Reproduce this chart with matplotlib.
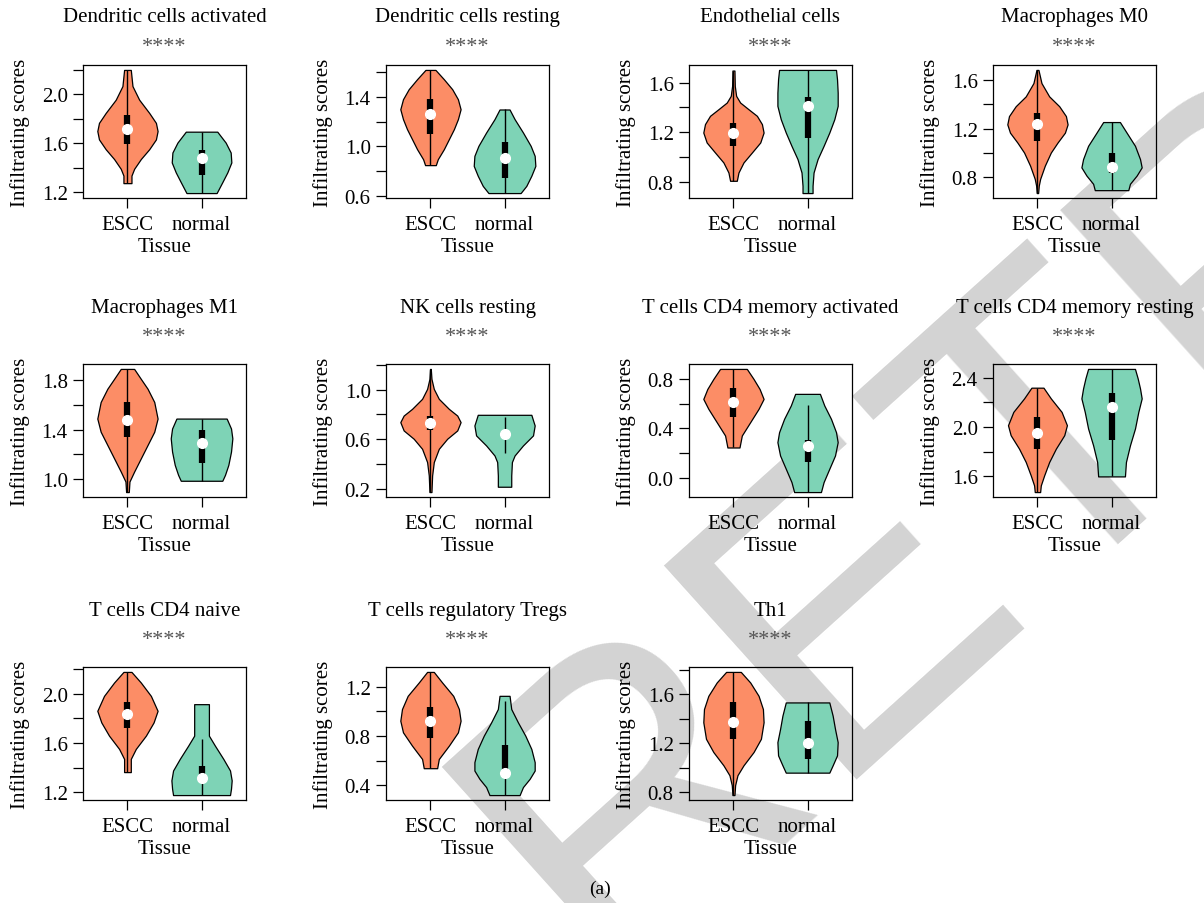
import numpy as np
import matplotlib
matplotlib.use("Agg")
import matplotlib.pyplot as plt
from matplotlib.ticker import FixedLocator, MultipleLocator

plt.rcParams["font.family"] = ["Liberation Serif", "DejaVu Serif"]

cell_types = ["Dendritic cells activated", "Dendritic cells resting", "Endothelial cells",
              "Macrophages M0", "Macrophages M1", "NK cells resting",
              "T cells CD4 memory activated", "T cells CD4 memory resting",
              "T cells CD4 naive", "T cells regulatory Tregs", "Th1"]
groups = ["ESCC", "normal"]
signif = ["****"] * 11

# violin outlines: score levels (top -> bottom) and relative density
escc_y = [
    [2.197, 2.065, 1.954, 1.846, 1.765, 1.698, 1.63, 1.55, 1.47, 1.39, 1.335, 1.273],
    [1.618, 1.543, 1.462, 1.381, 1.30, 1.22, 1.139, 1.058, 0.977, 0.896, 0.848],
    [1.697, 1.573, 1.493, 1.439, 1.385, 1.332, 1.265, 1.197, 1.117, 1.036, 0.956, 0.875, 0.808],
    [1.681, 1.573, 1.464, 1.383, 1.302, 1.234, 1.166, 1.085, 1.003, 0.895, 0.786, 0.732, 0.67],
    [1.894, 1.813, 1.733, 1.625, 1.49, 1.383, 1.275, 1.167, 1.059, 0.978, 0.892],
    [1.166, 1.086, 1.005, 0.925, 0.844, 0.79, 0.737, 0.67, 0.603, 0.522, 0.415, 0.307, 0.173],
    [0.881, 0.8, 0.719, 0.638, 0.558, 0.45, 0.342, 0.245],
    [2.319, 2.232, 2.123, 2.015, 1.934, 1.825, 1.717, 1.608, 1.527, 1.473],
    [2.175, 2.089, 1.981, 1.86, 1.766, 1.659, 1.552, 1.471, 1.364],
    [1.321, 1.235, 1.127, 1.02, 0.925, 0.831, 0.723, 0.615, 0.54],
    [1.781, 1.695, 1.586, 1.478, 1.37, 1.235, 1.127, 1.019, 0.938, 0.857, 0.776],
]
escc_dens = [
    [10, 15, 35, 65, 85, 90, 85, 65, 40, 20, 12, 12],
    [15, 40, 65, 82, 90, 82, 70, 55, 40, 22, 16],
    [3, 4, 8, 20, 45, 70, 85, 90, 80, 55, 30, 15, 10],
    [3, 12, 35, 65, 85, 90, 82, 60, 40, 22, 8, 4, 2],
    [20, 40, 60, 80, 90, 80, 60, 40, 20, 6, 4],
    [1, 3, 10, 25, 55, 80, 90, 80, 50, 25, 10, 5, 3],
    [40, 60, 78, 90, 75, 50, 25, 18],
    [18, 40, 72, 88, 80, 55, 35, 20, 10, 8],
    [12, 40, 70, 90, 78, 55, 25, 10, 10],
    [10, 35, 68, 85, 90, 82, 55, 25, 20],
    [22, 50, 75, 88, 90, 82, 60, 30, 12, 5, 3],
]
normal_y = [
    [1.693, 1.604, 1.523, 1.442, 1.361, 1.281, 1.192],
    [1.298, 1.22, 1.112, 1.004, 0.923, 0.842, 0.762, 0.68, 0.622],
    [1.702, 1.627, 1.519, 1.412, 1.305, 1.197, 1.09, 0.983, 0.875, 0.768, 0.709],
    [1.253, 1.166, 1.058, 0.949, 0.881, 0.814, 0.746, 0.694],
    [1.49, 1.409, 1.329, 1.221, 1.113, 1.032, 0.984],
    [0.796, 0.71, 0.63, 0.549, 0.468, 0.415, 0.307, 0.216],
    [0.679, 0.585, 0.477, 0.369, 0.288, 0.18, 0.073, -0.035, -0.116],
    [2.471, 2.395, 2.313, 2.232, 2.123, 1.988, 1.852, 1.717, 1.6],
    [1.914, 1.766, 1.659, 1.578, 1.471, 1.377, 1.297, 1.23, 1.178],
    [1.127, 1.02, 0.912, 0.804, 0.696, 0.589, 0.521, 0.454, 0.387, 0.322],
    [1.532, 1.424, 1.316, 1.208, 1.1, 1.019, 0.959],
]
normal_dens = [
    [47, 72, 87, 89, 77, 62, 45],
    [15, 30, 55, 78, 90, 92, 80, 65, 48],
    [85, 88, 90, 90, 80, 65, 48, 30, 18, 15, 15],
    [25, 45, 70, 85, 90, 75, 55, 50],
    [75, 88, 92, 88, 80, 70, 62],
    [80, 90, 85, 55, 30, 22, 20, 20],
    [37, 50, 70, 85, 90, 82, 65, 48, 40],
    [70, 78, 85, 90, 80, 70, 55, 43, 40],
    [22, 22, 22, 40, 65, 85, 90, 88, 85],
    [15, 20, 40, 62, 80, 90, 90, 75, 55, 45],
    [65, 75, 82, 90, 88, 75, 65],
]

# box stats: whisker low, q1, median, q3, whisker high
escc_box = [
    [1.273, 1.596, 1.712, 1.833, 2.197],
    [0.848, 1.098, 1.26, 1.381, 1.618],
    [0.808, 1.085, 1.197, 1.272, 1.697],
    [0.67, 1.098, 1.234, 1.329, 1.681],
    [0.892, 1.342, 1.477, 1.625, 1.894],
    [0.173, 0.67, 0.729, 0.79, 1.166],
    [0.245, 0.49, 0.611, 0.727, 0.881],
    [1.473, 1.82, 1.955, 2.083, 2.319],
    [1.364, 1.718, 1.834, 1.928, 2.175],
    [0.54, 0.782, 0.925, 1.033, 1.321],
    [0.776, 1.235, 1.376, 1.532, 1.781],
]
normal_box = [
    [1.192, 1.34, 1.48, 1.545, 1.693],
    [0.622, 0.74, 0.902, 1.036, 1.298],
    [0.709, 1.157, 1.412, 1.484, 1.702],
    [0.694, 0.835, 0.881, 1.003, 1.253],
    [0.984, 1.127, 1.294, 1.396, 1.49],
    [0.49, 0.615, 0.638, 0.66, 0.777],
    [-0.116, 0.127, 0.261, 0.302, 0.585],
    [1.6, 1.893, 2.159, 2.278, 2.471],
    [1.178, 1.30, 1.315, 1.417, 1.632],
    [0.322, 0.5, 0.5, 0.731, 1.087],
    [0.959, 1.068, 1.203, 1.384, 1.532],
]

# labelled y ticks
ytick_labels = [
    [1.2, 1.6, 2.0], [0.6, 1.0, 1.4], [0.8, 1.2, 1.6], [0.8, 1.2, 1.6],
    [1.0, 1.4, 1.8], [0.2, 0.6, 1.0], [0.0, 0.4, 0.8], [1.6, 2.0, 2.4],
    [1.2, 1.6, 2.0], [0.4, 0.8, 1.2], [0.8, 1.2, 1.6],
]

colors = ["#FC8D66", "#7ED3B6"]
dens_scale = 0.00452  # density unit -> half width in x units

W, H = 1204, 904
fig = plt.figure(figsize=(W / 100, H / 100), dpi=100)

# watermark behind everything
fig.text(600 / W, 1 - 980 / H, "RETRACTED", rotation=42, rotation_mode="anchor",
         fontsize=300, family="Liberation Sans", color="#d3d3d3",
         ha="left", va="baseline", zorder=-5)

col_left = [83, 386, 689, 993]
row_top = [66, 365, 668]
ax_w, ax_h = 163, 133
title_off = [35, 41, 41]   # points above axes top
star_off = [13, 19.5, 19.5]

for i, name in enumerate(cell_types):
    r, c = divmod(i, 4)
    ax = fig.add_axes([col_left[c] / W, 1 - (row_top[r] + ax_h) / H, ax_w / W, ax_h / H])
    ax.set_facecolor("none")

    for j, (ys, ds, box) in enumerate([(escc_y[i], escc_dens[i], escc_box[i]),
                                        (normal_y[i], normal_dens[i], normal_box[i])]):
        pos = j + 1
        ys = np.array(ys)[::-1]
        ds = np.array(ds, dtype=float)[::-1]
        stats = dict(coords=ys, vals=ds, mean=box[2], median=box[2],
                     min=ys.min(), max=ys.max())
        parts = ax.violin([stats], positions=[pos], widths=[2 * ds.max() * dens_scale],
                          showextrema=False)
        for body in parts["bodies"]:
            body.set_facecolor(colors[j])
            body.set_edgecolor("black")
            body.set_linewidth(0.9)
            body.set_alpha(1)
        ax.vlines(pos, box[0], box[4], color="black", lw=1)
        ax.vlines(pos, box[1], box[3], color="black", lw=4.5)
        ax.plot(pos, box[2], "o", color="white", ms=7, mec="white", zorder=5)

    ax.set_xlim(0.4, 2.6)
    ax.set_ymargin(0.04)
    ax.autoscale_view()
    ax.set_xticks([1, 2])
    ax.set_xticklabels(groups)
    ax.yaxis.set_major_locator(FixedLocator(ytick_labels[i]))
    ax.yaxis.set_major_formatter(lambda v, p: f"{v:.1f}")
    ax.yaxis.set_minor_locator(MultipleLocator(0.2))
    ax.tick_params(which="both", direction="out", length=7, width=0.9, labelsize=15)
    ax.tick_params(axis="x", pad=5)
    ax.tick_params(axis="y", pad=4)
    for sp in ax.spines.values():
        sp.set_linewidth(0.9)
    ax.set_ylabel("Infiltrating scores", fontsize=15)
    ax.yaxis.set_label_coords(-0.325, 0.5)
    ax.set_xlabel("Tissue", fontsize=15)
    ax.xaxis.set_label_coords(0.5, -0.29)

    ax.annotate(name, xy=(0.5, 1), xycoords="axes fraction", xytext=(0, title_off[r]),
                textcoords="offset points", ha="center", va="center", fontsize=15)
    ax.annotate(signif[i], xy=(0.5, 1), xycoords="axes fraction", xytext=(0, star_off[r]),
                textcoords="offset points", ha="center", va="center", fontsize=16,
                color="#555555")

fig.text(600 / W, 1 - 889 / H, "(a)", ha="center", va="center", fontsize=14)

fig.savefig("out.png", dpi=100)
